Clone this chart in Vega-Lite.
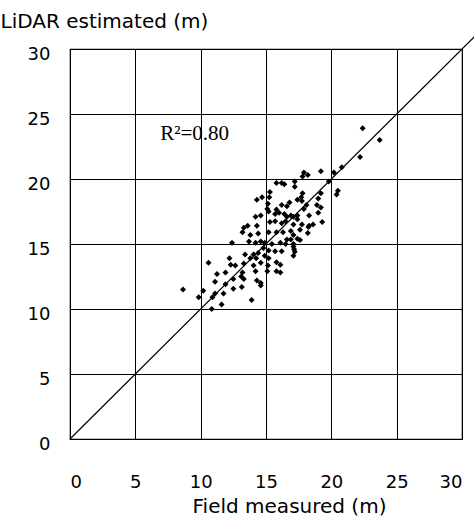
{
  "$schema": "https://vega.github.io/schema/vega-lite/v6.json",
  "width": 392,
  "height": 390,
  "autosize": {"type": "none"},
  "padding": {"left": 70, "top": 49, "right": 12, "bottom": 77},
  "background": "white",
  "config": {
    "view": {"stroke": "black", "strokeWidth": 1.2},
    "axis": {
      "grid": true, "gridColor": "black", "gridOpacity": 1, "gridWidth": 1,
      "ticks": false, "domain": false,
      "labelFont": "DejaVu Sans", "labelFontSize": 18, "labelColor": "black",
      "titleFont": "DejaVu Sans", "titleFontSize": 20, "titleFontWeight": "normal", "titleColor": "black"
    }
  },
  "layer": [
    {
      "data": {"values": [
        {"field": 22.4, "lidar": 23.9}, {"field": 23.7, "lidar": 23.0}, {"field": 22.2, "lidar": 21.7},
        {"field": 20.8, "lidar": 20.9}, {"field": 20.2, "lidar": 20.5}, {"field": 19.2, "lidar": 20.6},
        {"field": 17.9, "lidar": 20.5}, {"field": 18.2, "lidar": 20.3}, {"field": 17.8, "lidar": 20.2},
        {"field": 19.8, "lidar": 19.8}, {"field": 16.2, "lidar": 19.7}, {"field": 15.8, "lidar": 19.7},
        {"field": 16.4, "lidar": 19.6}, {"field": 17.2, "lidar": 19.8}, {"field": 17.2, "lidar": 19.4},
        {"field": 20.5, "lidar": 19.1}, {"field": 20.4, "lidar": 18.8}, {"field": 17.8, "lidar": 18.9},
        {"field": 17.7, "lidar": 18.6}, {"field": 19.2, "lidar": 18.9}, {"field": 19.0, "lidar": 18.5},
        {"field": 17.4, "lidar": 18.4}, {"field": 18.9, "lidar": 18.0}, {"field": 19.2, "lidar": 17.8},
        {"field": 16.6, "lidar": 17.9}, {"field": 16.2, "lidar": 18.0}, {"field": 18.1, "lidar": 18.0},
        {"field": 17.9, "lidar": 17.7}, {"field": 19.0, "lidar": 17.4}, {"field": 18.3, "lidar": 17.2},
        {"field": 17.1, "lidar": 17.1}, {"field": 16.6, "lidar": 17.1}, {"field": 14.3, "lidar": 18.4},
        {"field": 14.7, "lidar": 18.6}, {"field": 15.3, "lidar": 19.0}, {"field": 15.25, "lidar": 18.6},
        {"field": 16.8, "lidar": 18.2}, {"field": 17.75, "lidar": 18.3}, {"field": 15.15, "lidar": 18.1},
        {"field": 15.1, "lidar": 17.7}, {"field": 15.2, "lidar": 17.5}, {"field": 14.6, "lidar": 17.2},
        {"field": 14.2, "lidar": 17.1}, {"field": 15.8, "lidar": 17.65}, {"field": 16.0, "lidar": 17.4},
        {"field": 15.3, "lidar": 16.7}, {"field": 15.7, "lidar": 16.75}, {"field": 16.9, "lidar": 17.2},
        {"field": 17.4, "lidar": 16.9}, {"field": 17.75, "lidar": 16.5}, {"field": 19.3, "lidar": 16.7},
        {"field": 18.6, "lidar": 16.5}, {"field": 13.3, "lidar": 16.25}, {"field": 13.6, "lidar": 16.4},
        {"field": 14.3, "lidar": 16.4}, {"field": 15.7, "lidar": 17.3}, {"field": 16.4, "lidar": 17.3},
        {"field": 17.4, "lidar": 17.2}, {"field": 16.2, "lidar": 16.6}, {"field": 17.1, "lidar": 16.5},
        {"field": 18.3, "lidar": 16.4}, {"field": 13.2, "lidar": 15.9}, {"field": 13.8, "lidar": 15.7},
        {"field": 14.4, "lidar": 15.8}, {"field": 15.2, "lidar": 15.9}, {"field": 15.8, "lidar": 15.9},
        {"field": 16.3, "lidar": 15.9}, {"field": 16.9, "lidar": 16.0}, {"field": 17.1, "lidar": 15.7},
        {"field": 17.6, "lidar": 16.1}, {"field": 12.4, "lidar": 15.1}, {"field": 13.7, "lidar": 15.2},
        {"field": 14.2, "lidar": 15.1}, {"field": 14.6, "lidar": 15.2}, {"field": 14.9, "lidar": 15.1},
        {"field": 15.45, "lidar": 15.0}, {"field": 16.1, "lidar": 15.1}, {"field": 16.5, "lidar": 15.0},
        {"field": 16.9, "lidar": 15.35}, {"field": 17.4, "lidar": 15.4}, {"field": 17.1, "lidar": 14.8},
        {"field": 14.8, "lidar": 14.7}, {"field": 15.2, "lidar": 14.5}, {"field": 15.7, "lidar": 14.45},
        {"field": 16.2, "lidar": 14.45}, {"field": 17.2, "lidar": 14.4}, {"field": 13.4, "lidar": 14.2},
        {"field": 14.05, "lidar": 14.2}, {"field": 14.4, "lidar": 14.3}, {"field": 14.9, "lidar": 14.1},
        {"field": 12.2, "lidar": 13.9}, {"field": 13.8, "lidar": 13.9}, {"field": 14.25, "lidar": 13.9},
        {"field": 15.2, "lidar": 13.9}, {"field": 15.8, "lidar": 13.6}, {"field": 12.3, "lidar": 13.4},
        {"field": 12.65, "lidar": 13.35}, {"field": 13.3, "lidar": 13.5}, {"field": 14.05, "lidar": 13.35},
        {"field": 14.6, "lidar": 13.55}, {"field": 15.15, "lidar": 13.35}, {"field": 10.6, "lidar": 13.55},
        {"field": 13.2, "lidar": 12.8}, {"field": 14.2, "lidar": 12.9}, {"field": 15.1, "lidar": 12.9},
        {"field": 15.8, "lidar": 12.9}, {"field": 11.25, "lidar": 12.7}, {"field": 11.9, "lidar": 12.8},
        {"field": 13.1, "lidar": 12.5}, {"field": 11.1, "lidar": 12.1}, {"field": 12.5, "lidar": 12.3},
        {"field": 13.3, "lidar": 12.3}, {"field": 14.3, "lidar": 12.2}, {"field": 14.6, "lidar": 12.0},
        {"field": 16.1, "lidar": 12.8}, {"field": 11.9, "lidar": 11.9}, {"field": 13.15, "lidar": 11.7},
        {"field": 12.5, "lidar": 11.55}, {"field": 14.6, "lidar": 11.8}, {"field": 10.2, "lidar": 11.4},
        {"field": 11.1, "lidar": 11.2}, {"field": 11.75, "lidar": 11.2}, {"field": 9.85, "lidar": 10.9},
        {"field": 10.9, "lidar": 10.9}, {"field": 13.9, "lidar": 10.7}, {"field": 11.6, "lidar": 10.35},
        {"field": 10.85, "lidar": 10.0}, {"field": 8.65, "lidar": 11.5}, {"field": 16.5, "lidar": 16.75},
        {"field": 18.25, "lidar": 16.3}, {"field": 18.2, "lidar": 15.85}, {"field": 17.6, "lidar": 15.3},
        {"field": 17.1, "lidar": 15.0}, {"field": 17.15, "lidar": 14.6}, {"field": 17.1, "lidar": 14.1},
        {"field": 16.1, "lidar": 13.4}, {"field": 16.6, "lidar": 15.35}
      ]},
      "mark": {"type": "point", "shape": "diamond", "filled": true, "color": "black", "opacity": 1, "size": 36},
      "encoding": {
        "x": {"field": "field", "type": "quantitative", "scale": {"domain": [0, 30]},
          "axis": {"values": [0, 5, 10, 15, 20, 25, 30], "title": "Field measured (m)",
            "labelPadding": 34, "titleX": 219, "titleY": 67, "titleBaseline": "middle", "titleAnchor": "start", "titleAlign": "center"}},
        "y": {"field": "lidar", "type": "quantitative", "scale": {"domain": [0, 30]},
          "axis": {"values": [0, 5, 10, 15, 20, 25, 30], "title": "LiDAR estimated (m)",
            "labelPadding": 20, "labelOffset": 5, "titleAngle": 0, "titleX": -70, "titleY": -28,
            "titleAlign": "left", "titleBaseline": "middle", "titleAnchor": "start"}}
      }
    },
    {
      "data": {"values": [{"field": 0, "lidar": 0}, {"field": 31, "lidar": 31}]},
      "mark": {"type": "line", "color": "black", "strokeWidth": 1.2},
      "encoding": {
        "x": {"field": "field", "type": "quantitative"},
        "y": {"field": "lidar", "type": "quantitative"}
      }
    },
    {
      "data": {"values": [{"field": 6.9, "lidar": 23.0, "label": "R²=0.80"}]},
      "mark": {"type": "text", "font": "Liberation Serif", "fontSize": 21, "align": "left", "baseline": "alphabetic", "color": "black"},
      "encoding": {
        "x": {"field": "field", "type": "quantitative"},
        "y": {"field": "lidar", "type": "quantitative"},
        "text": {"field": "label"}
      }
    }
  ]
}
